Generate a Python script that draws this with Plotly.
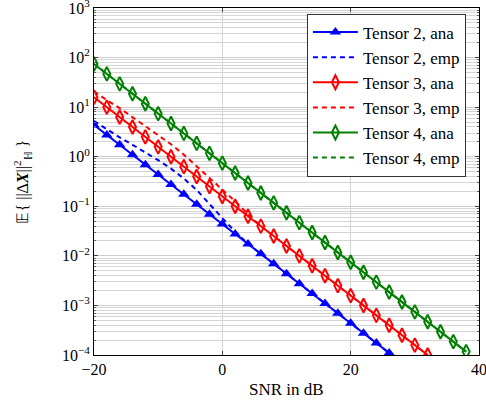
import plotly.graph_objects as go

# SNR values (dB)
snr_t2 = [-20, -18, -16, -14, -12, -10, -8, -6, -4, -2, 0, 2, 4, 6, 8, 10, 12, 14, 16, 18, 20, 22, 24, 26]
snr_t3 = [-20, -18, -16, -14, -12, -10, -8, -6, -4, -2, 0, 2, 4, 6, 8, 10, 12, 14, 16, 18, 20, 22, 24, 26, 28, 30, 32]
snr_t4 = [-20, -18, -16, -14, -12, -10, -8, -6, -4, -2, 0, 2, 4, 6, 8, 10, 12, 14, 16, 18, 20, 22, 24, 26, 28, 30, 32, 34, 36, 38]

t2_ana = [4.37, 2.75, 1.74, 1.10, 0.692, 0.437, 0.275, 0.174, 0.110, 0.0692, 0.0437, 0.0275,
          0.0174, 0.0110, 0.00692, 0.00437, 0.00275, 0.00174, 0.00110, 6.92e-4, 4.37e-4,
          2.75e-4, 1.74e-4, 1.10e-4]
t2_emp = [5.25, 3.55, 2.45, 1.74, 1.23, 0.851, 0.575, 0.363, 0.214, 0.110, 0.0575, 0.0309,
          0.0174, 0.0110, 0.00692, 0.00437, 0.00275, 0.00174, 0.00110, 6.92e-4, 4.37e-4,
          2.75e-4, 1.74e-4, 1.10e-4]

t3_ana = [15.8, 10.0, 6.31, 3.98, 2.51, 1.58, 1.00, 0.631, 0.398, 0.251, 0.158, 0.100, 0.0631,
          0.0398, 0.0251, 0.0158, 0.0100, 6.31e-3, 3.98e-3, 2.51e-3, 1.58e-3, 1.00e-3, 6.31e-4,
          3.98e-4, 2.51e-4, 1.58e-4, 1.00e-4]
t3_emp = [20.9, 13.8, 9.55, 6.31, 4.17, 2.75, 1.78, 1.10, 0.646, 0.380, 0.219, 0.126, 0.0692,
          0.0398, 0.0251, 0.0158, 0.0100, 6.31e-3, 3.98e-3, 2.51e-3, 1.58e-3, 1.00e-3, 6.31e-4,
          3.98e-4, 2.51e-4, 1.58e-4, 1.00e-4]

t4_ana = [74.1, 46.8, 29.5, 18.6, 11.7, 7.41, 4.68, 2.95, 1.86, 1.17, 0.741, 0.468, 0.295, 0.186,
          0.117, 0.0741, 0.0468, 0.0295, 0.0186, 0.0117, 7.41e-3, 4.68e-3, 2.95e-3, 1.86e-3,
          1.17e-3, 7.41e-4, 4.68e-4, 2.95e-4, 1.86e-4, 1.17e-4]
t4_emp = [74.1, 46.8, 29.5, 18.6, 11.7, 7.41, 4.68, 2.95, 1.86, 1.17, 0.741, 0.468, 0.295, 0.186,
          0.117, 0.0741, 0.0468, 0.0295, 0.0186, 0.0117, 7.41e-3, 4.68e-3, 2.95e-3, 1.86e-3,
          1.17e-3, 7.41e-4, 4.68e-4, 2.95e-4, 1.86e-4, 1.17e-4]

x_ticks = [-20, 0, 20, 40]
x_ticktext = ["\u221220", "0", "20", "40"]
y_ticks = [1e-4, 1e-3, 1e-2, 1e-1, 1e0, 1e1, 1e2, 1e3]
y_ticktext = ["10<sup>\u22124</sup>", "10<sup>\u22123</sup>", "10<sup>\u22122</sup>", "10<sup>\u22121</sup>",
              "10<sup>0</sup>", "10<sup>1</sup>", "10<sup>2</sup>", "10<sup>3</sup>"]

BLUE, RED, GREEN = "#0000ff", "#ff0000", "#008000"
FONT = "Liberation Serif, Times New Roman, Times, serif"

fig = go.Figure()
fig.add_trace(go.Scatter(x=snr_t2, y=t2_ana, name="Tensor 2, ana", mode="lines+markers",
                         line=dict(color=BLUE, width=2),
                         marker=dict(symbol="triangle-up", size=10, color=BLUE)))
fig.add_trace(go.Scatter(x=snr_t2, y=t2_emp, name="Tensor 2, emp", mode="lines",
                         line=dict(color=BLUE, width=2, dash="5px,4px")))
fig.add_trace(go.Scatter(x=snr_t3, y=t3_ana, name="Tensor 3, ana", mode="lines+markers",
                         line=dict(color=RED, width=2),
                         marker=dict(symbol="diamond-tall-open", size=10, color=RED, line=dict(width=2, color=RED))))
fig.add_trace(go.Scatter(x=snr_t3, y=t3_emp, name="Tensor 3, emp", mode="lines",
                         line=dict(color=RED, width=2, dash="5px,4px")))
fig.add_trace(go.Scatter(x=snr_t4, y=t4_ana, name="Tensor 4, ana", mode="lines+markers",
                         line=dict(color=GREEN, width=2),
                         marker=dict(symbol="diamond-tall-open", size=10, color=GREEN, line=dict(width=2, color=GREEN))))
fig.add_trace(go.Scatter(x=snr_t4, y=t4_emp, name="Tensor 4, emp", mode="lines",
                         line=dict(color=GREEN, width=2, dash="5px,4px")))

minor_y = [m * 10.0 ** k for k in range(-4, 3) for m in range(2, 10)]

fig.update_layout(
    width=486, height=412,
    margin=dict(l=94, r=7, t=8, b=57),
    paper_bgcolor="white", plot_bgcolor="white",
    font=dict(family=FONT, size=16, color="black"),
    showlegend=True,
    legend=dict(x=0.553, y=0.984, xanchor="left", yanchor="top",
                bgcolor="white", bordercolor="#333333", borderwidth=1,
                font=dict(family=FONT, size=17), itemwidth=45,
                tracegroupgap=0),
    xaxis=dict(range=[-20, 40], tickvals=x_ticks, ticktext=x_ticktext,
               showgrid=True, gridcolor="#d4d4d4", gridwidth=1,
               ticks="inside", ticklen=4, tickcolor="#444444",
               showline=True, linecolor="black", linewidth=1, mirror="allticks",
               zeroline=False, tickfont=dict(family=FONT, size=16),
               ticklabeloverflow="allow", automargin=False),
    yaxis=dict(type="log", range=[-4, 3], tickvals=y_ticks, ticktext=y_ticktext,
               showgrid=True, gridcolor="#cccccc", gridwidth=1,
               ticks="inside", ticklen=4, tickcolor="#444444",
               showline=True, linecolor="black", linewidth=1, mirror="allticks",
               zeroline=False, tickfont=dict(family=FONT, size=16),
               ticklabeloverflow="allow", automargin=False,
               minor=dict(tickvals=minor_y, ticks="inside", ticklen=2, tickcolor="#666666",
                          showgrid=True, gridcolor="#d4d4d4", gridwidth=1)),
    annotations=[
        dict(text="SNR in dB", xref="paper", yref="paper", x=0.5, y=-0.10,
             xanchor="center", yanchor="middle", showarrow=False,
             font=dict(family=FONT, size=17)),
        dict(text="\U0001D53C{ ||\u0394<b><i>X</i></b>||<sup>2</sup><sub>\u210D</sub> }",
             xref="paper", yref="paper", x=-0.187, y=0.5, textangle=-90,
             xanchor="center", yanchor="middle", showarrow=False,
             font=dict(family=FONT, size=16)),
    ],
)

fig.write_html("out.html", config={"displayModeBar": False},
               post_script="document.body.style.margin='0';document.body.style.overflow='hidden';")
